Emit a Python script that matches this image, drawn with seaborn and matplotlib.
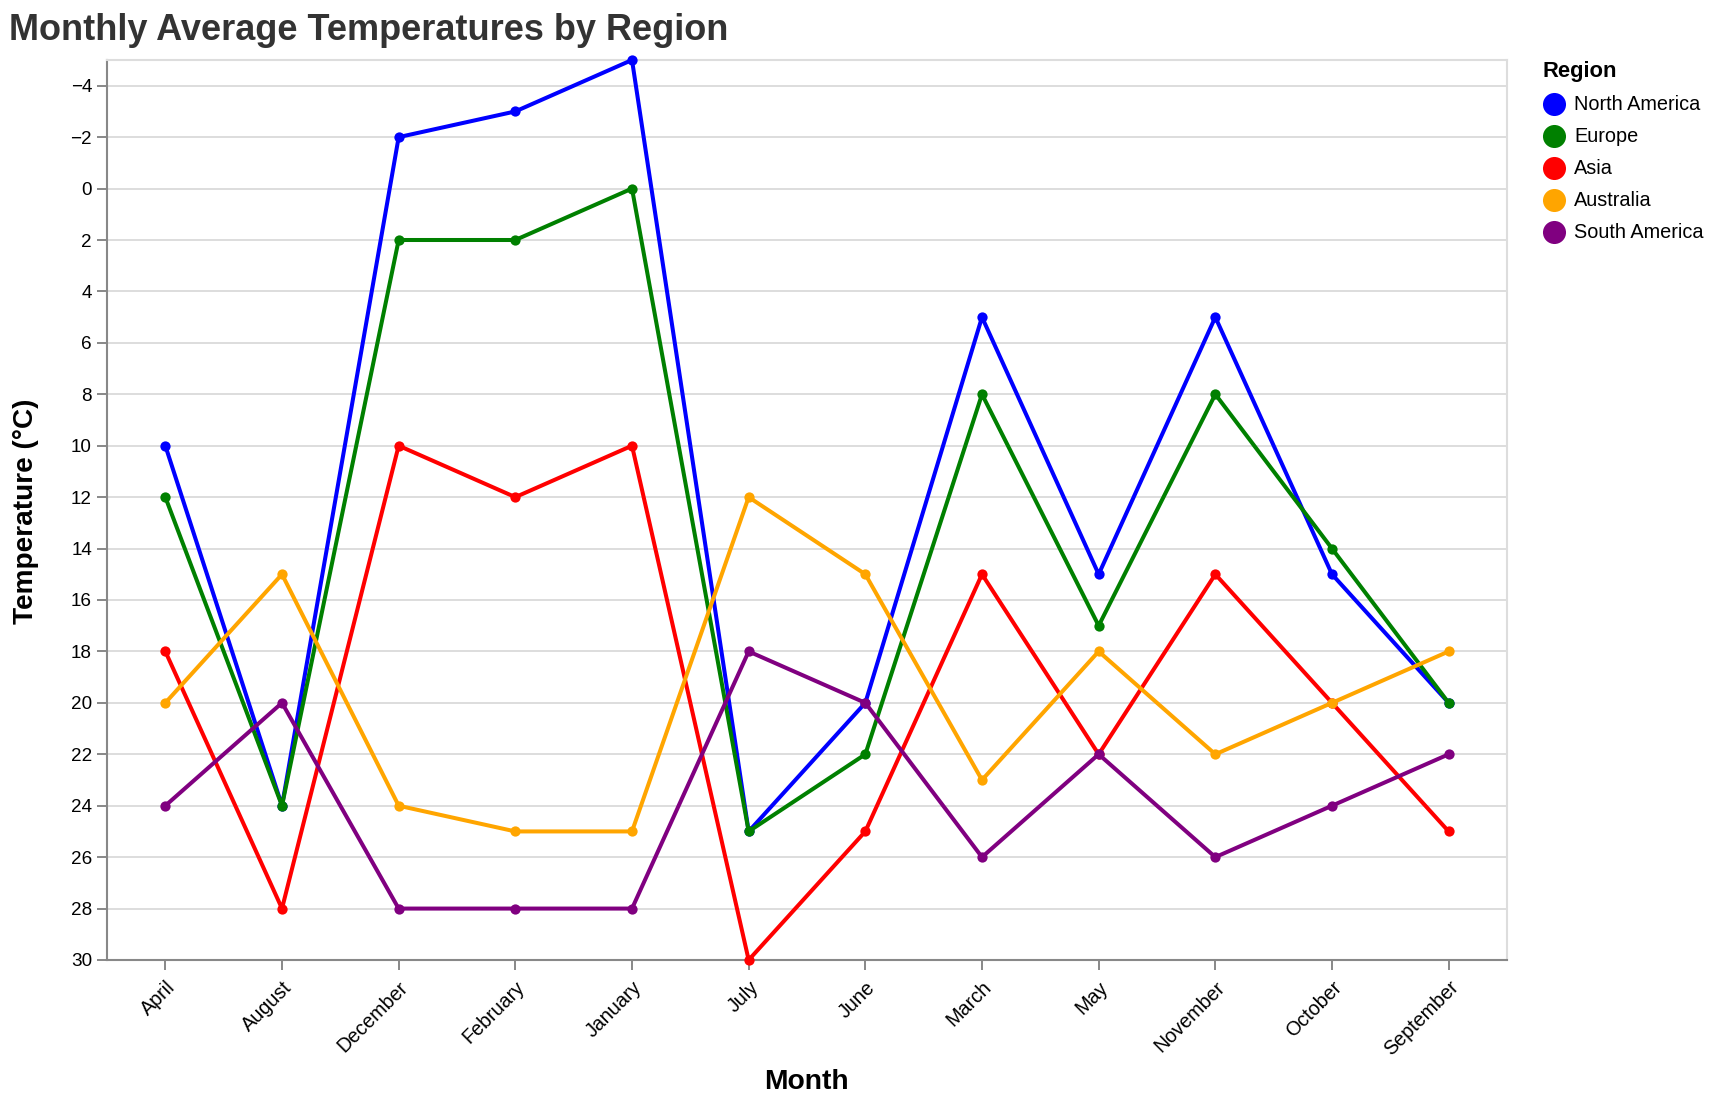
import matplotlib
matplotlib.use("Agg")
import matplotlib.pyplot as plt
import pandas as pd
import seaborn as sns
from matplotlib.lines import Line2D

months = ["April","August","December","February","January","July","June","March","May","November","October","September"]
north_america = [10,24,-2,-3,-5,25,20,5,15,5,15,20]
europe = [12,24,2,2,0,25,22,8,17,8,14,20]
asia = [18,28,10,12,10,30,25,15,22,15,20,25]
australia = [20,15,24,25,25,12,15,23,18,22,20,18]
south_america = [24,20,28,28,28,18,20,26,22,26,24,22]
regions = ["North America","Europe","Asia","Australia","South America"]
colors = ["blue","green","red","orange","purple"]
yticks = list(range(-4,31,2))

df = pd.DataFrame({"Month":months,"North America":north_america,"Europe":europe,"Asia":asia,"Australia":australia,"South America":south_america})
long = df.melt(id_vars="Month",var_name="Region",value_name="Temperature")

sns.set_theme(style="white")
plt.rcParams['font.family'] = ['Liberation Sans','DejaVu Sans']
W,H = 1716,1104
fig = plt.figure(figsize=(W/100,H/100),dpi=100)
L,R,T,B = 107,1507,60,960
ax = fig.add_axes([L/W,1-B/H,(R-L)/W,(B-T)/H])
sns.lineplot(data=long,x="Month",y="Temperature",hue="Region",hue_order=regions,palette=colors,sort=False,
             marker="o",markersize=7.4,markeredgewidth=0,linewidth=2.9,legend=False,ax=ax,clip_on=False,errorbar=None)
for ln in ax.lines:
    ln.set_zorder(5)
ax.set_xlim(-0.5,11.5)
ax.set_ylim(30,-5)
ax.set_yticks(yticks)
ax.set_yticklabels([str(v).replace("-","\u2212") for v in yticks])
ax.grid(axis="y",color="#dddddd",linewidth=1.4)
ax.set_axisbelow(True)
for s,sp in ax.spines.items():
    sp.set_color("#dddddd"); sp.set_linewidth(1.5)
ax.spines['bottom'].set_color("#888888")
ax.spines['left'].set_color("#888888")
ax.tick_params(axis='y',length=7.2,width=1.4,color="#888888",labelsize=13.6,labelcolor="black",pad=3.6,left=True)
ax.tick_params(axis='x',length=7.2,width=1.4,color="#888888",labelsize=14.2,labelcolor="black",pad=5.5,bottom=True)
plt.setp(ax.get_xticklabels(),rotation=45,ha="right",rotation_mode="anchor")
ax.set_xlabel("Month",fontsize=20.3,fontweight="bold",color="black",labelpad=0)
ax.xaxis.set_label_coords((806-L)/(R-L),-(1069-B)/(B-T),transform=ax.transAxes)
ax.set_ylabel("Temperature (\u00b0C)",fontsize=20.2,fontweight="bold",color="black")
ax.yaxis.set_label_coords(-(L-39)/(R-L),(B-511)/(B-T),transform=ax.transAxes)
fig.text(9/W,1-30/H,"Monthly Average Temperatures by Region",fontsize=26,fontweight="bold",color="#333333",va="center",ha="left")
fig.text(1543/W,1-71/H,"Region",fontsize=15.8,fontweight="bold",color="black",va="center",ha="left")
for i,(r,c) in enumerate(zip(regions,colors)):
    y = 104+i*32
    fig.add_artist(Line2D([1554/W],[1-y/H],marker="o",color=c,markersize=16.6,markeredgewidth=0,linestyle="None",transform=fig.transFigure))
    fig.text(1574/W,1-y/H,r,fontsize=14.3,color="black",va="center",ha="left")
fig.savefig("out.png",dpi=100,facecolor="white")
